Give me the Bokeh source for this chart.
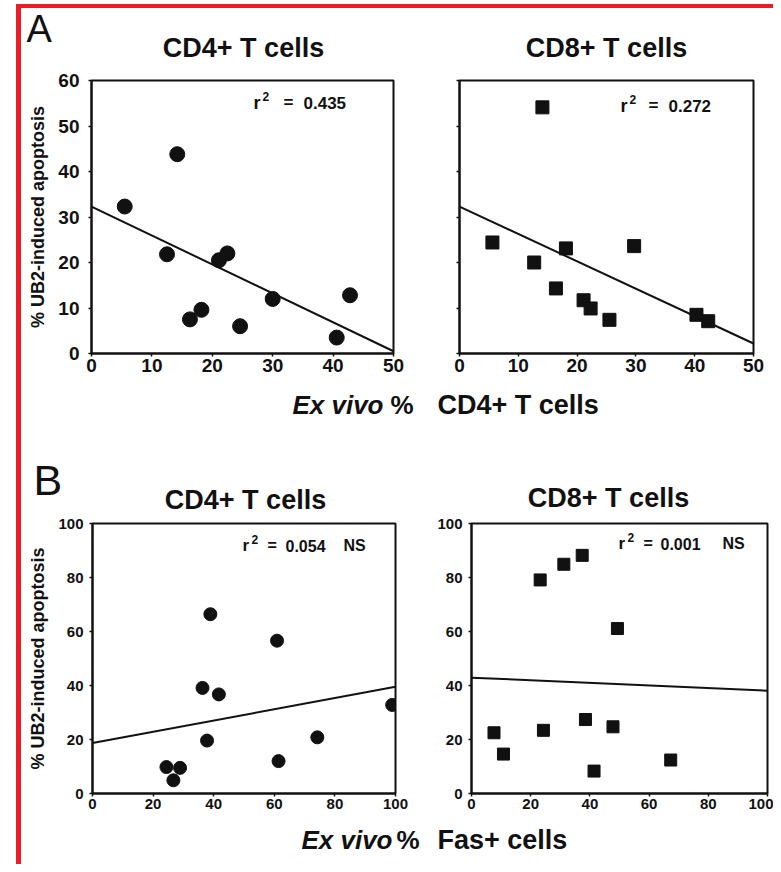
from bokeh.plotting import figure
from bokeh.layouts import column, row
from bokeh.models import Range1d, Label, Spacer, FixedTicker
from bokeh.core.properties import value
from bokeh.embed import file_html
from bokeh.resources import INLINE

FONT = "Liberation Sans"
INK = "#111111"
RED = "#ec1c24"

# ---------------- data ----------------
panel_letters = ["A", "B"]
panel_titles = ["CD4+ T cells", "CD8+ T cells"]
x_label_prefix = "Ex vivo"
x_label_pct = "%"
x_label_rest = ["CD4+ T cells", "Fas+ cells"]
y_label = "% UB2-induced apoptosis"

a_ticks_x = [0, 10, 20, 30, 40, 50]
a_ticks_y = [0, 10, 20, 30, 40, 50, 60]
b_ticks = [0, 20, 40, 60, 80, 100]

# Panel A, CD4+ T cells (circles)
a_cd4_x = [5.5, 14.2, 12.5, 21.1, 22.5, 16.3, 18.2, 24.6, 30.0, 40.6, 42.8]
a_cd4_y = [32.3, 43.8, 21.8, 20.5, 22.0, 7.5, 9.6, 6.0, 12.0, 3.5, 12.8]
a_cd4_fit_x = [0, 50]
a_cd4_fit_y = [32.3, 0.5]

# Panel A, CD8+ T cells (squares)
a_cd8_x = [14.1, 5.6, 12.7, 18.1, 29.7, 16.4, 21.1, 22.3, 25.5, 40.3, 42.3]
a_cd8_y = [54.1, 24.4, 20.0, 23.1, 23.6, 14.3, 11.7, 9.9, 7.4, 8.5, 7.1]
a_cd8_fit_x = [0, 50]
a_cd8_fit_y = [32.3, 2.2]

# Panel B, CD4+ T cells (circles)
b_cd4_x = [38.9, 60.9, 36.3, 41.7, 37.8, 74.2, 61.4, 98.9, 24.4, 28.9, 26.7]
b_cd4_y = [66.4, 56.6, 39.1, 36.7, 19.6, 20.8, 12.0, 32.8, 9.8, 9.5, 4.9]
b_cd4_fit_x = [0, 100]
b_cd4_fit_y = [18.7, 39.5]

# Panel B, CD8+ T cells (squares)
b_cd8_x = [23.2, 31.2, 37.4, 49.3, 7.6, 10.8, 24.3, 38.5, 47.8, 41.4, 67.3]
b_cd8_y = [79.1, 84.9, 88.2, 61.1, 22.5, 14.6, 23.4, 27.4, 24.7, 8.3, 12.4]
b_cd8_fit_x = [0, 100]
b_cd8_fit_y = [42.9, 38.1]

r2_values = ["0.435", "0.272", "0.054", "0.001"]
r2_flags = ["", "", "NS", "NS"]


# ---------------- helpers ----------------
def make_panel(xs, ys, fit_x, fit_y, marker, msize, xr, yr, xticks, yticks,
               width, height, bl, br, bt, bb, tick_fs, ylab, show_ylabels,
               ystand, xstand):
    p = figure(width=width, height=height, title=None,
               x_range=Range1d(*xr), y_range=Range1d(*yr),
               output_backend="svg", toolbar_location=None,
               min_border_left=bl, min_border_right=br,
               min_border_top=bt, min_border_bottom=bb)
    p.background_fill_color = "white"
    p.border_fill_color = "white"
    p.grid.visible = False
    p.outline_line_color = INK
    p.outline_line_width = 2
    p.line(fit_x, fit_y, line_color=INK, line_width=2)
    p.scatter(xs, ys, marker=marker, size=msize, fill_color=INK, line_color=INK)
    for ax, ticks in ((p.xaxis[0], xticks), (p.yaxis[0], yticks)):
        ax.ticker = FixedTicker(ticks=ticks)
        ax.axis_line_color = INK
        ax.axis_line_width = 2
        ax.major_tick_line_color = INK
        ax.major_tick_line_width = 1.5
        ax.major_tick_in = 0
        ax.major_tick_out = 3
        ax.minor_tick_line_color = None
        ax.major_label_text_font = FONT
        ax.major_label_text_font_size = tick_fs
        ax.major_label_text_font_style = "bold"
        ax.major_label_text_color = INK
    p.xaxis.major_label_standoff = xstand
    p.yaxis.major_label_standoff = ystand
    if not show_ylabels:
        p.yaxis.major_label_text_color = None
    if ylab:
        p.yaxis.axis_label = ylab
        p.yaxis.axis_label_text_font = FONT
        p.yaxis.axis_label_text_font_size = "18px"
        p.yaxis.axis_label_text_font_style = "bold"
        p.yaxis.axis_label_text_color = INK
        p.yaxis.axis_label_standoff = 7
    return p


def add_r2(p, xr, yr, pieces, base_dy):
    # pieces: (text, dx from frame left, extra dy, font size); dy = text centre below frame top
    for text, dx, ddy, size in pieces:
        if not text:
            continue
        p.add_layout(Label(x=xr[0], y=yr[1], x_offset=dx, y_offset=-(base_dy + ddy),
                           text=text, text_font=FONT, text_font_size=size,
                           text_font_style="bold", text_color=INK,
                           text_baseline="middle"))


def make_strip(y0, y1, items):
    p = figure(width=752, height=y1 - y0, title=None,
               x_range=Range1d(21, 773), y_range=Range1d(y1, y0),
               output_backend="svg", toolbar_location=None, min_border=0,
               x_axis_location=None, y_axis_location=None)
    p.outline_line_color = None
    p.grid.visible = False
    p.background_fill_color = "white"
    p.border_fill_color = "white"
    for text, x, y, size, style, align in items:
        p.text(x=[x], y=[y], text=[text], text_font=value(FONT),
               text_font_size=value(size), text_font_style=style,
               text_align=align, text_baseline="middle", text_color=INK)
    return p


# ---------------- panels ----------------
a_left = make_panel(a_cd4_x, a_cd4_y, a_cd4_fit_x, a_cd4_fit_y, "circle", 15,
                    (0, 50), (0, 60), a_ticks_x, a_ticks_y,
                    404, 326, 70, 32, 18, 32, "19px", y_label, True, 9, 2)
add_r2(a_left, (0, 50), (0, 60),
       [("r", 162, 0, "18px"), ("2", 171, -6, "12px"), ("=", 192, 0, "17px"),
        (r2_values[0], 212, 0, "17px"), (r2_flags[0], 0, 0, "17px")], 22)

a_right = make_panel(a_cd8_x, a_cd8_y, a_cd8_fit_x, a_cd8_fit_y, "square", 13,
                     (0, 50), (0, 60), a_ticks_x, a_ticks_y,
                     348, 326, 34, 20, 14, 35, "19px", None, False, 2, 2)
add_r2(a_right, (0, 50), (0, 60),
       [("r", 161, 0, "18px"), ("2", 170, -6, "12px"), ("=", 189, 0, "17px"),
        (r2_values[1], 209, 0, "17px"), (r2_flags[1], 0, 0, "17px")], 25)

b_left = make_panel(b_cd4_x, b_cd4_y, b_cd4_fit_x, b_cd4_fit_y, "circle", 13,
                    (0, 100), (0, 100), b_ticks, b_ticks,
                    404, 308, 71, 30, 8, 27, "15px", y_label, True, 6, 2)
add_r2(b_left, (0, 100), (0, 100),
       [("r", 150, 0, "17px"), ("2", 159, -6, "12px"), ("=", 175, 0, "16px"),
        (r2_values[2], 193, 0, "16px"), (r2_flags[2], 251, 0, "16px")], 22)

b_right = make_panel(b_cd8_x, b_cd8_y, b_cd8_fit_x, b_cd8_fit_y, "square", 12,
                     (0, 100), (0, 100), b_ticks, b_ticks,
                     348, 308, 46, 6, 4, 30, "15px", None, True, 6, 2)
add_r2(b_right, (0, 100), (0, 100),
       [("r", 147, 0, "17px"), ("2", 156, -6, "12px"), ("=", 172, 0, "16px"),
        (r2_values[3], 189, 0, "16px"), (r2_flags[3], 251, 0, "16px")], 20)

# ---------------- text strips (coordinates = picture pixels, text centres) ----------------
strip1 = make_strip(8, 62, [
    (panel_letters[0], 26, 28, "38px", "normal", "left"),
    (panel_titles[0], 243, 47, "27px", "bold", "center"),
    (panel_titles[1], 606, 47, "27px", "bold", "center"),
])
strip2 = make_strip(388, 515, [
    (x_label_prefix, 383, 404, "26px", "bold italic", "right"),
    (x_label_pct, 390, 404, "26px", "bold", "left"),
    (x_label_rest[0], 437, 404, "27px", "bold", "left"),
    (panel_letters[1], 33, 479, "43px", "normal", "left"),
    (panel_titles[0], 245, 499, "27px", "bold", "center"),
    (panel_titles[1], 608, 497, "27px", "bold", "center"),
])
strip3 = make_strip(823, 864, [
    (x_label_prefix, 392, 839, "26px", "bold italic", "right"),
    (x_label_pct, 396, 839, "26px", "bold", "left"),
    (x_label_rest[1], 437, 839, "27px", "bold", "left"),
])

content = column(strip1, row(a_left, a_right, spacing=0), strip2,
                 row(b_left, b_right, spacing=0), strip3, spacing=0)

layout = column(
    Spacer(width=773, height=4),
    row(Spacer(width=16, height=4),
        Spacer(width=757, height=4, styles={"background-color": RED}), spacing=0),
    row(Spacer(width=16, height=856),
        Spacer(width=5, height=856, styles={"background-color": RED}),
        content, spacing=0),
    spacing=0,
)

open("out.html", "w").write(file_html(layout, INLINE))
